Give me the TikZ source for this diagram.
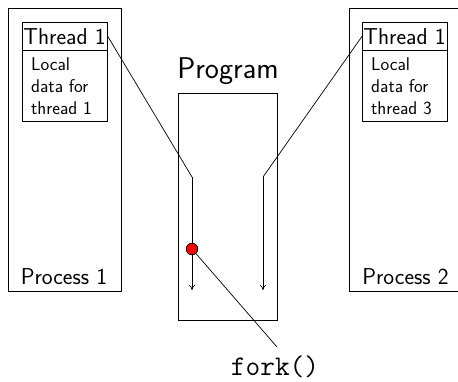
\documentclass[tikz,border=0pt]{standalone}
\usetikzlibrary{arrows.meta}
\begin{document}
\begin{tikzpicture}[x=1pt,y=-1pt,
  box/.style={draw, line width=0.8pt, inner sep=0pt, anchor=north west},
  lbl/.style={font=\sffamily\fontsize{23}{26}\selectfont, inner sep=0pt},
  body/.style={font=\sffamily\fontsize{18.5}{22}\selectfont, inner sep=0pt, align=left, anchor=north west},
  flow/.style={line width=0.7pt, -{To[length=5pt,width=6pt]}},
  link/.style={line width=0.7pt},
  forkdot/.style={circle, draw, fill=red, minimum size=11.5pt, inner sep=0pt, line width=0.6pt}]
\clip (0,0) rectangle (458,381);
\fill[white] (0,0) rectangle (458,381);
% processes
\node[box, minimum width=113pt, minimum height=283pt] (p1) at (8,8) {};
\node[box, minimum width=120pt, minimum height=283pt] (p2) at (349,8) {};
\node[lbl] (p1t) at (64,277) {Process 1};
\node[lbl] (p2t) at (405.5,277) {Process 2};
% thread boxes
\node[box, minimum width=85pt, minimum height=99pt] (t1) at (22,22) {};
\node[box, minimum width=85pt, minimum height=28pt] (t1h) at (22,22) {};
\node[lbl] (t1ht) at (64.5,37) {Thread 1};
\node[body] (t1b) at (31,57) {Local\\data for\\thread 1};
\node[box, minimum width=85pt, minimum height=99pt] (t2) at (362,22) {};
\node[box, minimum width=85pt, minimum height=28pt] (t2h) at (362,22) {};
\node[lbl] (t2ht) at (404.5,37) {Thread 1};
\node[body] (t2b) at (371,57) {Local\\data for\\thread 3};
% program
\node[font=\sffamily\fontsize{30}{33}\selectfont, inner sep=0pt] (progt) at (228,71) {Program};
\node[box, minimum width=99pt, minimum height=227pt] (prog) at (178,93) {};
% flows
\coordinate (a1) at (192,177);
\coordinate (a2) at (192,290);
\coordinate (b1) at (263,177);
\coordinate (b2) at (263,290);
\draw[link] (t1h.east) -- (a1);
\draw[flow] (a1) -- (a2);
\draw[link] (t2h.west) -- (b1);
\draw[flow] (b1) -- (b2);
% fork
\node[font=\ttfamily\fontsize{28.5}{30}\selectfont, inner sep=0pt] (fork) at (275,367) {fork()};
\coordinate (fe) at (277,347);
\node[forkdot] (dot) at (192,249) {};
\draw[link] (dot.center) -- (fe);
\node[forkdot] at (dot) {};
\end{tikzpicture}
\end{document}
